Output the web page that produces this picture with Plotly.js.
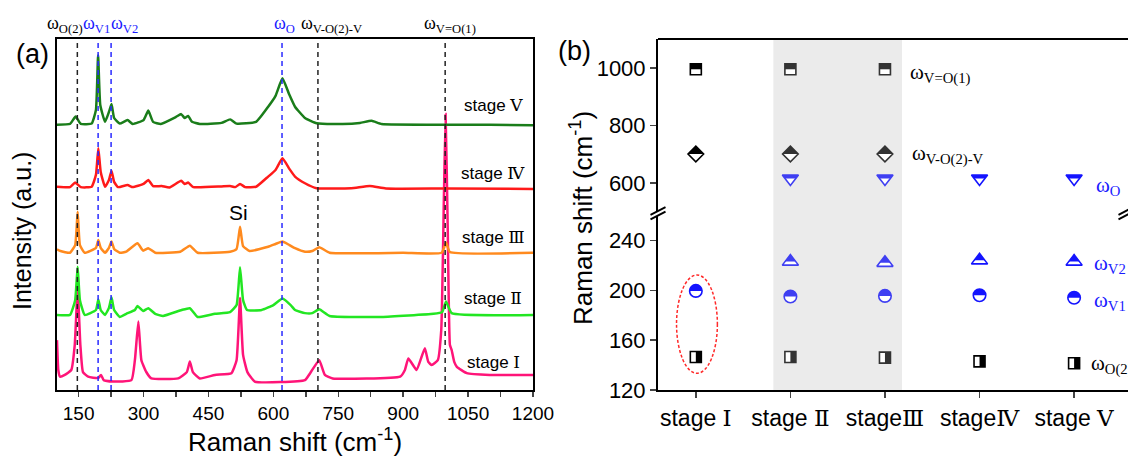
<!DOCTYPE html>
<html>
<head>
<meta charset="utf-8">
<script src="https://cdn.plot.ly/plotly-3.0.1.min.js"></script>
<style>html,body{margin:0;padding:0;background:#fff;} #chart{width:1128px;height:460px;}</style>
</head>
<body>
<div id="chart"></div>
<script>
// ---------------- Panel (a): Raman spectra (offset) ----------------
const stage5X = [100,130,143,155,180,190,195,200,211,220,226,232,245,263,275,300,311,322,340,375,387,395,403,412,430,480,500,515,560,588,605,621,637,650,673,700,760,800,827,850,1000,1100,1200];
const stage5Y = [75.6,75.8,77.9,75.8,75.9,79.8,95.4,81.2,76.4,79.2,81.5,77.5,75.9,76.9,75.8,76.9,79.6,76.4,75.8,77.8,78.6,77.5,78.1,76.4,75.8,76.1,77.1,75.9,76.4,80.7,83.8,88.8,84.1,80.7,77.5,76.0,75.8,76.1,76.7,75.8,75.6,75.6,75.4];

const stage4X = [100,130,142,155,180,190,195.5,201,211,220,226,232,241,263,275,300,311,322,342,360,387,395,403,415,480,500,512,523,535,560,588,605,621,637,650,673,700,780,823,860,1000,1200];
const stage4Y = [57.9,57.8,59.1,57.8,57.9,61.3,68.9,62.1,57.9,59.8,62.5,59.3,57.8,58.4,57.8,58.7,59.8,58.1,58.1,57.7,59.6,58.7,59.1,57.8,58.0,58.1,57.8,58.7,57.8,57.9,60.8,62.7,66.0,63.0,60.8,58.9,57.5,57.5,58.1,57.4,57.4,57.3];

const stage3X = [100,108,130,142,147.7,153,164,190,195.5,201,211,220,226,232,245,260,286,299,311,327,385,407,425,500,515,523,530,545,588,605,621,637,650,673,690,706,730,900,989,999,1008,1200];
const stage3Y = [40.1,39.6,39.1,41.3,50.8,41.3,39.1,40.5,42.7,40.5,39.1,40.5,42.3,40.2,39.1,39.4,41.8,39.7,40.4,39.1,39.4,41.1,39.1,39.4,40.2,46.5,41.0,39.6,40.8,41.6,42.3,41.3,40.4,39.4,39.6,40.7,39.1,39.1,39.1,42.0,39.3,39.1];

const stage2X = [100,130,142,147.7,153,164,190,195.5,201,211,220,226,232,245,260,280,286,299,311,327,345,388,407,425,465,500,515,523,530,539,573,600,621,640,650,673,690,706,730,850,970,990,999,1012,1200];
const stage2Y = [21.4,21.4,25.6,35.1,25.6,21.4,22.8,25.8,22.8,21.4,23.4,26.4,22.8,20.8,21.7,22.8,23.9,22.5,23.3,21.7,21.1,22.8,23.3,20.8,21.7,22.2,24.2,35.0,25.6,22.8,22.8,24.2,26.1,24.2,22.8,21.9,21.9,23.0,21.1,20.8,21.7,22.2,25.2,21.9,21.4];

const stage1X = [100,103,107,118,133,141,147.7,154,160,172,195,201.6,208,230,272,280,288,295,306,318,380,400,407,414,430,465,503,515,523,530,540,557,673,685,706,719,737,893,904,912,931,950,958,966,980,988,994,998,1003,1008,1012,1018,1024,1047,1100,1200];
const stage1Y = [14.2,5.7,3.8,4.3,5.7,12.8,28.9,12.8,5.1,3.8,3.4,4.3,2.8,2.4,2.8,8.5,19.5,8.5,5.2,3.3,3.3,5.1,8.1,5.1,3.3,4.3,4.8,8.5,26.2,10.0,5.1,2.4,2.8,4.8,8.5,4.3,3.3,3.8,5.7,9.0,5.7,11.9,8.0,7.1,8.5,17.1,54.1,78.6,45.6,12.8,11.4,8.0,6.6,4.8,4.3,4.3];

const stageNames = ['stage Ⅰ','stage Ⅱ','stage Ⅲ','stage Ⅳ','stage Ⅴ'];
const spectraColors = ['#ff1478','#22e622','#ff8a1e','#ff1a1a','#1a7d1a'];

// assigned modes (vertical guide lines), cm-1
const modeNames = ['O(2)','V1','V2','O','V-O(2)-V','V=O(1)'];
const modePositions = [147, 195, 225, 620, 703, 997];
const modeIsBlue = [false, true, true, true, false, false];

// ---------------- Panel (b): peak positions per stage ----------------
const stageTicks = ['stage Ⅰ','stage Ⅱ','stageⅢ','stageⅣ','stage Ⅴ'];
const stageIdx = [0,1,2,3,4];
const vO1Stages = [0,1,2];       const vO1Shift = [995, 995, 995];
const vO2vStages = [0,1,2];      const vO2vShift = [701, 701, 701];
const oStages = [1,2,3,4];       const oShift = [616, 616, 616, 616];
const v2Stages = [1,2,3,4];      const v2Shift = [223, 222, 224, 223];
const v1Stages = [0,1,2,3,4];    const v1Shift = [199.5, 195, 195.5, 196, 194];
const o2Stages = [0,1,2,3,4];    const o2Shift = [146.5, 146.5, 146, 143, 141.5];
const shadedStages = [1, 2];

// ---------------- helpers ----------------
const W = 1128, H = 460;
const px = v => v / W;
const py = v => 1 - v / H;
const serif = s => '<span style="font-family:\'DejaVu Serif\'">' + s + '</span>';

const traces = [];
const specX = [stage1X, stage2X, stage3X, stage4X, stage5X];
const specY = [stage1Y, stage2Y, stage3Y, stage4Y, stage5Y];
for (let i = 0; i < 5; i++) {
  traces.push({
    type: 'scatter', mode: 'lines', x: specX[i], y: specY[i], name: stageNames[i],
    xaxis: 'x', yaxis: 'y', line: {color: spectraColors[i], width: 2.5, shape: 'spline', smoothing: 0.4},
    hoverinfo: 'x+y', showlegend: false
  });
}

const black = '#000000', dgray = '#333333', blue = '#1414ff', lblue = '#3f3ff2';
const colBlack = s => (s === 1 || s === 2) ? dgray : black;
const colBlue = s => (s === 1 || s === 2) ? lblue : blue;

const shapes = [];
// shaded band for stages II-III (panel b)
shapes.push({type: 'rect', xref: 'x2', yref: 'paper', x0: shadedStages[0] - 0.18, x1: shadedStages[1] + 0.18,
  y0: py(390), y1: py(39), fillcolor: '#ebebeb', line: {width: 0}, layer: 'below'});

function circlePath(r, half) {
  const pts = [];
  const n = 24;
  const a1 = half ? Math.PI : 2 * Math.PI;
  for (let k = 0; k <= n; k++) {
    const a = a1 * k / n;
    pts.push((r * Math.cos(a)).toFixed(2) + ',' + (r * Math.sin(a)).toFixed(2));
  }
  return 'M' + pts.join('L') + 'Z';
}
function symbolPaths(kind, size) {
  const r = size / 2;
  const rt = r * 2 / Math.sqrt(3);
  const rd = r * 1.3;
  if (kind === 'square-top') return [`M${-r},${-r}H${r}V${r}H${-r}Z`, `M${-r},0H${r}V${r}H${-r}Z`];
  if (kind === 'square-right') return [`M${-r},${-r}H${r}V${r}H${-r}Z`, `M0,${-r}H${r}V${r}H0Z`];
  if (kind === 'diamond') return [`M${rd},0L0,${rd}L${-rd},0L0,${-rd}Z`, `M${rd},0L0,${rd}L${-rd},0Z`];
  if (kind === 'circle') return [circlePath(r, false), circlePath(r, true)];
  if (kind === 'triangle-up') return [`M${-rt},${-r/2}H${rt}L0,${r}Z`, `M0,${r}L${2*rt/3},0H${-2*rt/3}Z`];
  if (kind === 'triangle-down') return [`M${-rt},${r/2}H${rt}L0,${-r}Z`, `M${-rt},${r/2}H${rt}L${2*rt/3},0H${-2*rt/3}Z`];
}
function addSeries(xs, ys, yaxis, kind, symbol, size, colorFn, name) {
  const cols = xs.map(colorFn);
  const [full, half] = symbolPaths(kind, size);
  xs.forEach((x, i) => {
    const base = {type: 'path', xref: 'x2', yref: yaxis, xsizemode: 'pixel', ysizemode: 'pixel',
      xanchor: x, yanchor: ys[i], line: {width: 0}, layer: 'below'};
    shapes.push(Object.assign({}, base, {path: full, fillcolor: '#ffffff'}));
    shapes.push(Object.assign({}, base, {path: half, fillcolor: cols[i]}));
  });
  traces.push({type: 'scatter', mode: 'markers', x: xs, y: ys, xaxis: 'x2', yaxis: yaxis, name: name,
    marker: {symbol: symbol, size: size, color: 'rgba(0,0,0,0)', line: {color: cols, width: 1.6}},
    showlegend: false, hoverinfo: 'y'});
}
addSeries(vO1Stages, vO1Shift, 'y2', 'square-top', 'square', 11, colBlack, 'V=O(1)');
addSeries(vO2vStages, vO2vShift, 'y2', 'diamond', 'diamond', 12, colBlack, 'V-O(2)-V');
addSeries(oStages, oShift, 'y2', 'triangle-down', 'triangle-down', 14, colBlue, 'O');
addSeries(v2Stages, v2Shift, 'y3', 'triangle-up', 'triangle-up', 14, colBlue, 'V2');
addSeries(v1Stages, v1Shift, 'y3', 'circle', 'circle', 12.5, colBlue, 'V1');
addSeries(o2Stages, o2Shift, 'y3', 'square-right', 'square', 11, colBlack, 'O(2)');

// dashed guide lines in panel (a)
modePositions.forEach((m, i) => {
  shapes.push({type: 'line', xref: 'x', yref: 'paper', x0: m, x1: m, y0: py(390), y1: py(39),
    line: {color: modeIsBlue[i] ? '#2a2aff' : '#222222', width: 1.5, dash: '5px,4px'}, layer: 'above'});
});
// red dashed ellipse around stage I
shapes.push({type: 'circle', xref: 'x2', yref: 'y3', x0: -0.204, x1: 0.228, y0: 133.4, y1: 212.3,
  line: {color: '#ff2a2a', width: 1.5, dash: '3px,2px'}, layer: 'above'});
// top frame line of panel (b)
shapes.push({type: 'line', xref: 'paper', yref: 'paper', x0: px(658), x1: 1, y0: py(39), y1: py(39),
  line: {color: '#000', width: 2}});
// axis-break marks
[658, 1126].forEach(cx => {
  [[214.8, 207.2], [219.3, 211.7]].forEach(([a, b]) => {
    shapes.push({type: 'line', xref: 'paper', yref: 'paper', x0: px(cx - 7.5), x1: px(cx + 7.5),
      y0: py(a), y1: py(b), line: {color: '#000', width: 2}});
  });
});

const annotations = [];
const ann = (o) => annotations.push(Object.assign({showarrow: false, xanchor: 'center', yanchor: 'middle'}, o));
ann({xref: 'paper', yref: 'paper', x: px(32), y: py(54), text: '(a)', font: {family: 'Liberation Sans', size: 27, color: '#000'}});
ann({xref: 'paper', yref: 'paper', x: px(574), y: py(51), text: '(b)', font: {family: 'Liberation Sans', size: 27, color: '#000'}});
ann({xref: 'paper', yref: 'paper', x: px(239), y: py(212), text: 'Si', font: {family: 'Liberation Sans', size: 21, color: '#000'}});
// y title of panel (a)
ann({xref: 'paper', yref: 'paper', x: px(22), y: py(231), textangle: -90,
  text: 'Intensity (a.u.)', font: {family: 'Liberation Sans', size: 25, color: '#000'}});
// stage labels in panel (a)
const stageLabelY = [362, 298, 237, 173, 105];
const stageLabelTxt = ['stage ' + serif('Ⅰ'), 'stage ' + serif('Ⅱ'), 'stage ' + serif('Ⅲ'), 'stage ' + serif('Ⅳ'), 'stage ' + serif('Ⅴ')];
stageLabelTxt.forEach((t, i) => ann({xref: 'paper', yref: 'paper', x: px(493), y: py(stageLabelY[i]), text: t,
  font: {family: 'Liberation Sans', size: 17, color: '#000'}}));
// mode labels above panel (a)
const modeLabelShift = [-12, -2, 13, 2, 14, 5];
modePositions.forEach((m, i) => ann({xref: 'x', yref: 'paper', x: m, xshift: modeLabelShift[i], y: py(24),
  text: 'ω<sub>' + modeNames[i] + '</sub>', font: {family: 'Liberation Serif', size: 18, color: modeIsBlue[i] ? '#1a1aff' : '#000'}}));
// mode labels in panel (b)
const bLabels = [
  {x: 908, y: 74, t: 'V=O(1)', c: '#000'},
  {x: 910, y: 155, t: 'V-O(2)-V', c: '#000'},
  {x: 1094, y: 186, t: 'O', c: '#1a1aff'},
  {x: 1092, y: 264, t: 'V2', c: '#1a1aff'},
  {x: 1092, y: 301, t: 'V1', c: '#1a1aff'},
  {x: 1089, y: 364, t: 'O(2)', c: '#000'}
];
bLabels.forEach(l => ann({xref: 'paper', yref: 'paper', x: px(l.x), y: py(l.y), xanchor: 'left',
  text: 'ω<sub>' + l.t + '</sub>', font: {family: 'Liberation Serif', size: 21, color: l.c}}));
// y title of panel (b)
ann({xref: 'paper', yref: 'paper', x: px(582), y: py(218), textangle: -90,
  text: 'Raman shift (cm<sup>-1</sup>)', font: {family: 'Liberation Sans', size: 26, color: '#000'}});

const axisLine = {showline: true, linecolor: '#000', linewidth: 2, showgrid: false, zeroline: false};
const layout = {
  width: W, height: H, margin: {l: 0, r: 0, t: 0, b: 0},
  paper_bgcolor: '#fff', plot_bgcolor: 'rgba(0,0,0,0)', showlegend: false,
  font: {family: 'Liberation Sans', color: '#000'},
  xaxis: Object.assign({}, axisLine, {domain: [px(57), px(533)], range: [100, 1200], anchor: 'y', mirror: true,
    tickvals: [150, 300, 450, 600, 750, 900, 1050, 1200], ticks: 'outside', ticklen: 5, tickwidth: 1.5,
    minor: {tickvals: [225, 375, 525, 675, 825, 975, 1125], ticks: 'outside', ticklen: 5, tickwidth: 1.5},
    tickfont: {size: 19},
    title: {text: 'Raman shift (cm<sup>-1</sup>)', font: {size: 26}, standoff: 8}}),
  yaxis: Object.assign({}, axisLine, {domain: [py(390), py(39)], range: [0, 100], anchor: 'x', mirror: true,
    showticklabels: false, ticks: ''}),
  xaxis2: Object.assign({}, axisLine, {domain: [px(658), 1], range: [-0.4, 4.57], anchor: 'y3',
    tickvals: stageIdx, ticktext: stageTicks.map(s => s.replace(/([ⅠⅡⅢⅣⅤ])/, serif('$1'))),
    ticks: 'outside', ticklen: 6, tickwidth: 1.5, tickfont: {size: 23}}),
  yaxis2: Object.assign({}, axisLine, {domain: [py(212), py(39)], range: [500, 1100], anchor: 'x2',
    tickvals: [600, 800, 1000], ticks: 'outside', ticklen: 6, tickwidth: 1.5, tickfont: {size: 22}}),
  yaxis3: Object.assign({}, axisLine, {domain: [py(390), py(215.5)], range: [120, 260], anchor: 'x2',
    tickvals: [120, 160, 200, 240], ticks: 'outside', ticklen: 6, tickwidth: 1.5, tickfont: {size: 22}}),
  shapes: shapes,
  annotations: annotations
};
Plotly.newPlot('chart', traces, layout, {displayModeBar: false, staticPlot: true});
</script>
</body>
</html>
